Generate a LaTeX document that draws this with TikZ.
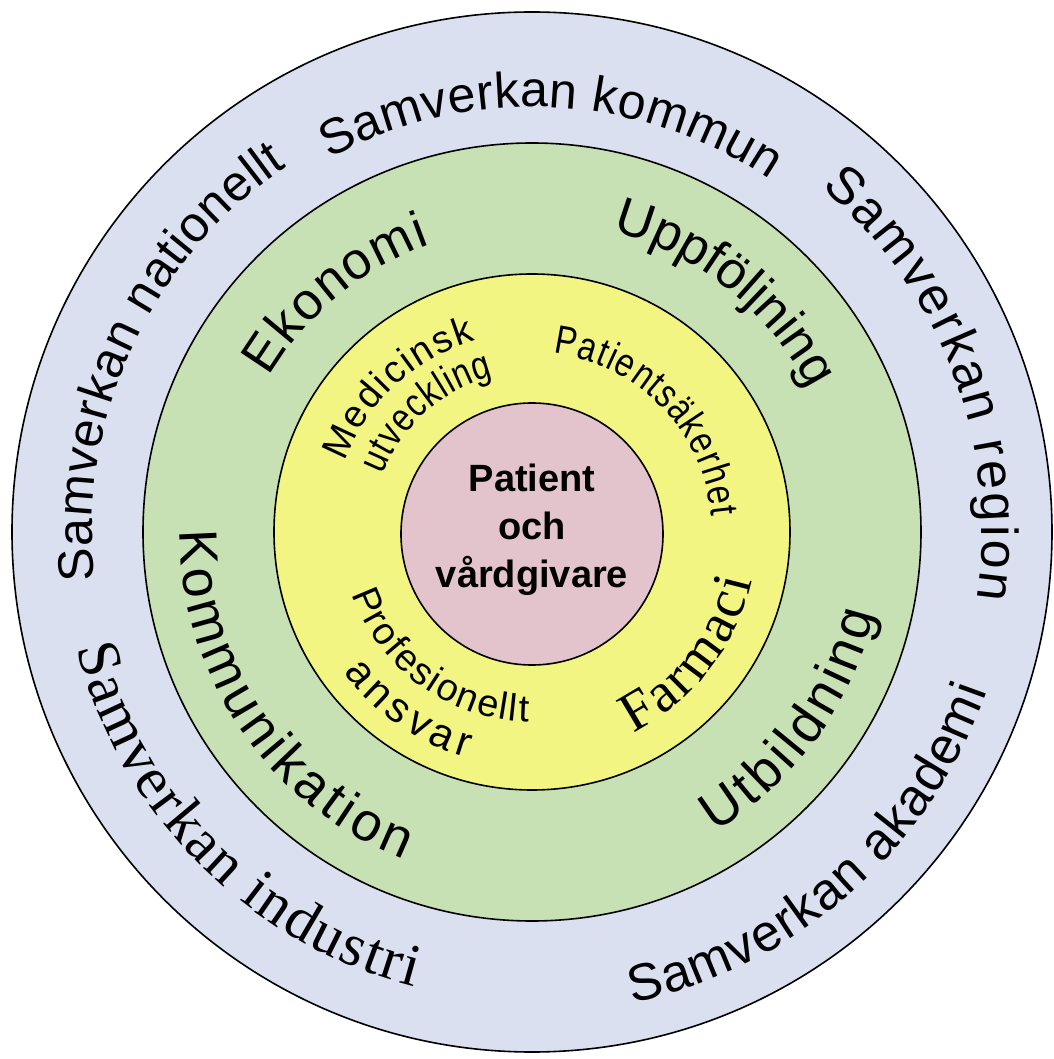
\documentclass[tikz,border=0pt]{standalone}
\usepackage{fontspec}
\usetikzlibrary{decorations.text}
\newfontfamily\arialf{Liberation Sans}
\newfontfamily\arialn[FakeStretch=0.82]{Liberation Sans}
\newfontfamily\timesf{Liberation Serif}
\definecolor{ringblue}{RGB}{218,224,240}
\definecolor{ringgreen}{RGB}{200,225,180}
\definecolor{ringyellow}{RGB}{242,245,130}
\definecolor{ringpink}{RGB}{228,196,204}
\tikzset{
  ring/.style={draw=black, line width=1.6pt},
  centertext/.style={align=center, font=\arialf\bfseries\fontsize{38}{48}\selectfont, inner sep=0pt}
}
\newcommand\arctext[5]{%
  \path[decorate,decoration={text along path,text align={fit to path},text={|#1|#2}}]
    (#3:#5) arc[start angle=#3,end angle=#4,radius=#5];}
\begin{document}
\begin{tikzpicture}[x=1pt,y=1pt]
\useasboundingbox (-532,-527) rectangle (521,532);
\fill[white] (-532,-527) rectangle (521,532);
\draw[ring, fill=ringblue] (0,0) circle[radius=520];
\draw[ring, fill=ringgreen] (0,0) circle[radius=389];
\draw[ring, fill=ringyellow] (0,0) circle[radius=258];
\draw[ring, fill=ringpink] (0,-2) circle[radius=131];
\node[centertext] (center) at (0,2) {Patient\\och\\vårdgivare};
% outer ring
\arctext{\arialf\fontsize{50}{50}\selectfont}{Samverkan kommun}{118.5}{56}{425}
\arctext{\arialf\fontsize{50}{50}\selectfont}{Samverkan nationellt}{186.3}{123.8}{440}
\arctext{\arialf\fontsize{52}{52}\selectfont}{Samverkan region}{50}{-8.6}{450}
\arctext{\arialf\fontsize{52}{52}\selectfont}{Samverkan akademi}{-78}{-19.3}{482}
\arctext{\timesf\fontsize{60}{60}\selectfont}{Samverkan industri}{194.3}{255.5}{470}
% green ring
\arctext{\arialf\fontsize{52}{52}\selectfont}{Ekonomi}{149.5}{109.5}{305}
\arctext{\arialf\fontsize{52}{52}\selectfont}{Uppföljning}{75}{28}{312}
\arctext{\arialf\fontsize{54}{54}\selectfont}{Kommunikation}{179.7}{248.6}{352}
\arctext{\arialf\fontsize{54}{54}\selectfont}{Utbildning}{-58.6}{-13.4}{352}
% yellow ring
\arctext{\arialf\fontsize{38}{38}\selectfont}{Medicinsk}{159.4}{106.5}{200}
\arctext{\arialn\fontsize{40}{40}\selectfont}{utveckling}{159}{104}{160}
\arctext{\arialn\fontsize{40}{40}\selectfont}{Patientsäkerhet}{83.3}{5}{180}
\arctext{\timesf\fontsize{56}{56}\selectfont}{Farmaci}{-63.2}{-12.4}{225}
\arctext{\arialf\fontsize{38}{38}\selectfont}{Profesionellt}{199}{269}{190}
\arctext{\arialf\fontsize{42}{42}\selectfont}{ansvar}{216.6}{253.9}{235}
\end{tikzpicture}
\end{document}
